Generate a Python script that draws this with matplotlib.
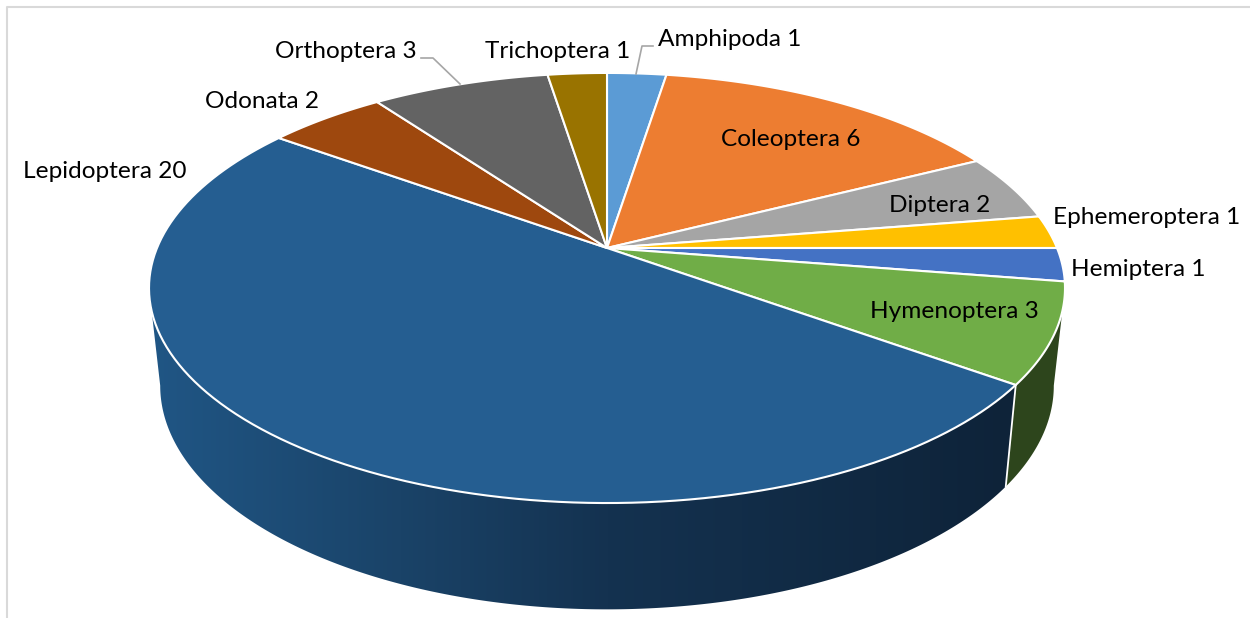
import matplotlib
matplotlib.use("Agg")
import matplotlib.pyplot as plt
from matplotlib.patches import Polygon
import numpy as np

plt.rcParams['font.family'] = ['Lato', 'DejaVu Sans']

orders = ["Amphipoda", "Coleoptera", "Diptera", "Ephemeroptera", "Hemiptera",
          "Hymenoptera", "Lepidoptera", "Odonata", "Orthoptera", "Trichoptera"]
counts = [1, 6, 2, 1, 1, 3, 20, 2, 3, 1]
colors = ["#5b9bd5", "#ed7d31", "#a5a5a5", "#ffc000", "#4472c4",
          "#70ad47", "#255e91", "#9e480e", "#636363", "#997300"]

# left edge and middle height of each label, in pixels
label_x = [658, 721, 889, 1053, 1071, 870, 23, 205, 275, 485]
label_y = [40, 140, 206, 218, 269, 312, 172, 102, 52, 52]

# disc geometry, fitted to the picture
CX = 607
P = 0.186
TOP_CY, TOP_RX, TOP_RY = 248, 450, 207.6
BOT_CY, BOT_RX, BOT_RY = 344, 439, 216


def project(theta, cy, rx, ry):
    # theta in degrees clockwise from the top of the pie
    u = np.sin(np.radians(theta))
    v = np.cos(np.radians(theta))
    w = 1 + P * v
    return CX + rx * u / w, cy - ry * v / w


def wall_outline(start, end):
    th = np.linspace(start, end, 300)
    tx, ty = project(th, TOP_CY, TOP_RX, TOP_RY)
    bx, by = project(th, BOT_CY, BOT_RX, BOT_RY)
    return np.c_[np.r_[tx, bx[::-1]], np.r_[ty, by[::-1]]]


fig = plt.figure(figsize=(12.5, 6.18), dpi=100)
ax = fig.add_axes([0, 0, 1, 1])

# chart area border
ax.plot([7, 7, 1250], [618, 7, 7], color="#d9d9d9", lw=1.5, zorder=1)

edges = np.cumsum([0] + counts) / sum(counts) * 360

# where the side of the disc turns away from the viewer
side = np.degrees(np.arccos(-P))

# side walls, only the two front slices show
xs = np.arange(140, 1080)
grad = np.zeros((1, len(xs), 3))
for c, stops in enumerate([[0x20, 0x1a, 0x14, 0x0e],
                           [0x56, 0x43, 0x32, 0x23],
                           [0x85, 0x68, 0x50, 0x39]]):
    grad[0, :, c] = np.interp(xs, [150, 400, 607, 1010], stops) / 255

lep_wall = Polygon(wall_outline(edges[6], 360 - side), closed=True,
                   facecolor="none", edgecolor="none", zorder=2)
ax.add_patch(lep_wall)
im = ax.imshow(grad, extent=(140, 1080, 618, 0), aspect="auto", zorder=2)
im.set_clip_path(lep_wall)

ax.add_patch(Polygon(wall_outline(side, edges[6]), closed=True,
                     facecolor="#2d451c", edgecolor="none", zorder=2))

ax.set_xlim(0, 1250)
ax.set_ylim(618, 0)
ax.axis("off")

# white seam between the two walls
sx0, sy0 = project(edges[6], TOP_CY, TOP_RX, TOP_RY)
sx1, sy1 = project(edges[6], BOT_CY, BOT_RX, BOT_RY)
ax.plot([sx0, sx1], [sy0, sy1], color="white", lw=1.3, zorder=3)

# top face
for i in range(len(counts)):
    th = np.linspace(edges[i], edges[i + 1], 120)
    x, y = project(th, TOP_CY, TOP_RX, TOP_RY)
    ax.fill(np.r_[CX, x], np.r_[TOP_CY, y], facecolor=colors[i],
            edgecolor="white", lw=1.5, joinstyle="round", zorder=4)

# leader lines
ax.plot([421, 433, 460], [58, 58, 84], color="#a6a6a6", lw=1.2, zorder=5)
ax.plot([653, 642, 636], [46, 46, 74], color="#a6a6a6", lw=1.2, zorder=5)

for i in range(len(orders)):
    ax.text(label_x[i], label_y[i], "%s %d" % (orders[i], counts[i]),
            fontsize=17.6, color="black", ha="left", va="center", zorder=6)

fig.savefig("out.png", dpi=100)
